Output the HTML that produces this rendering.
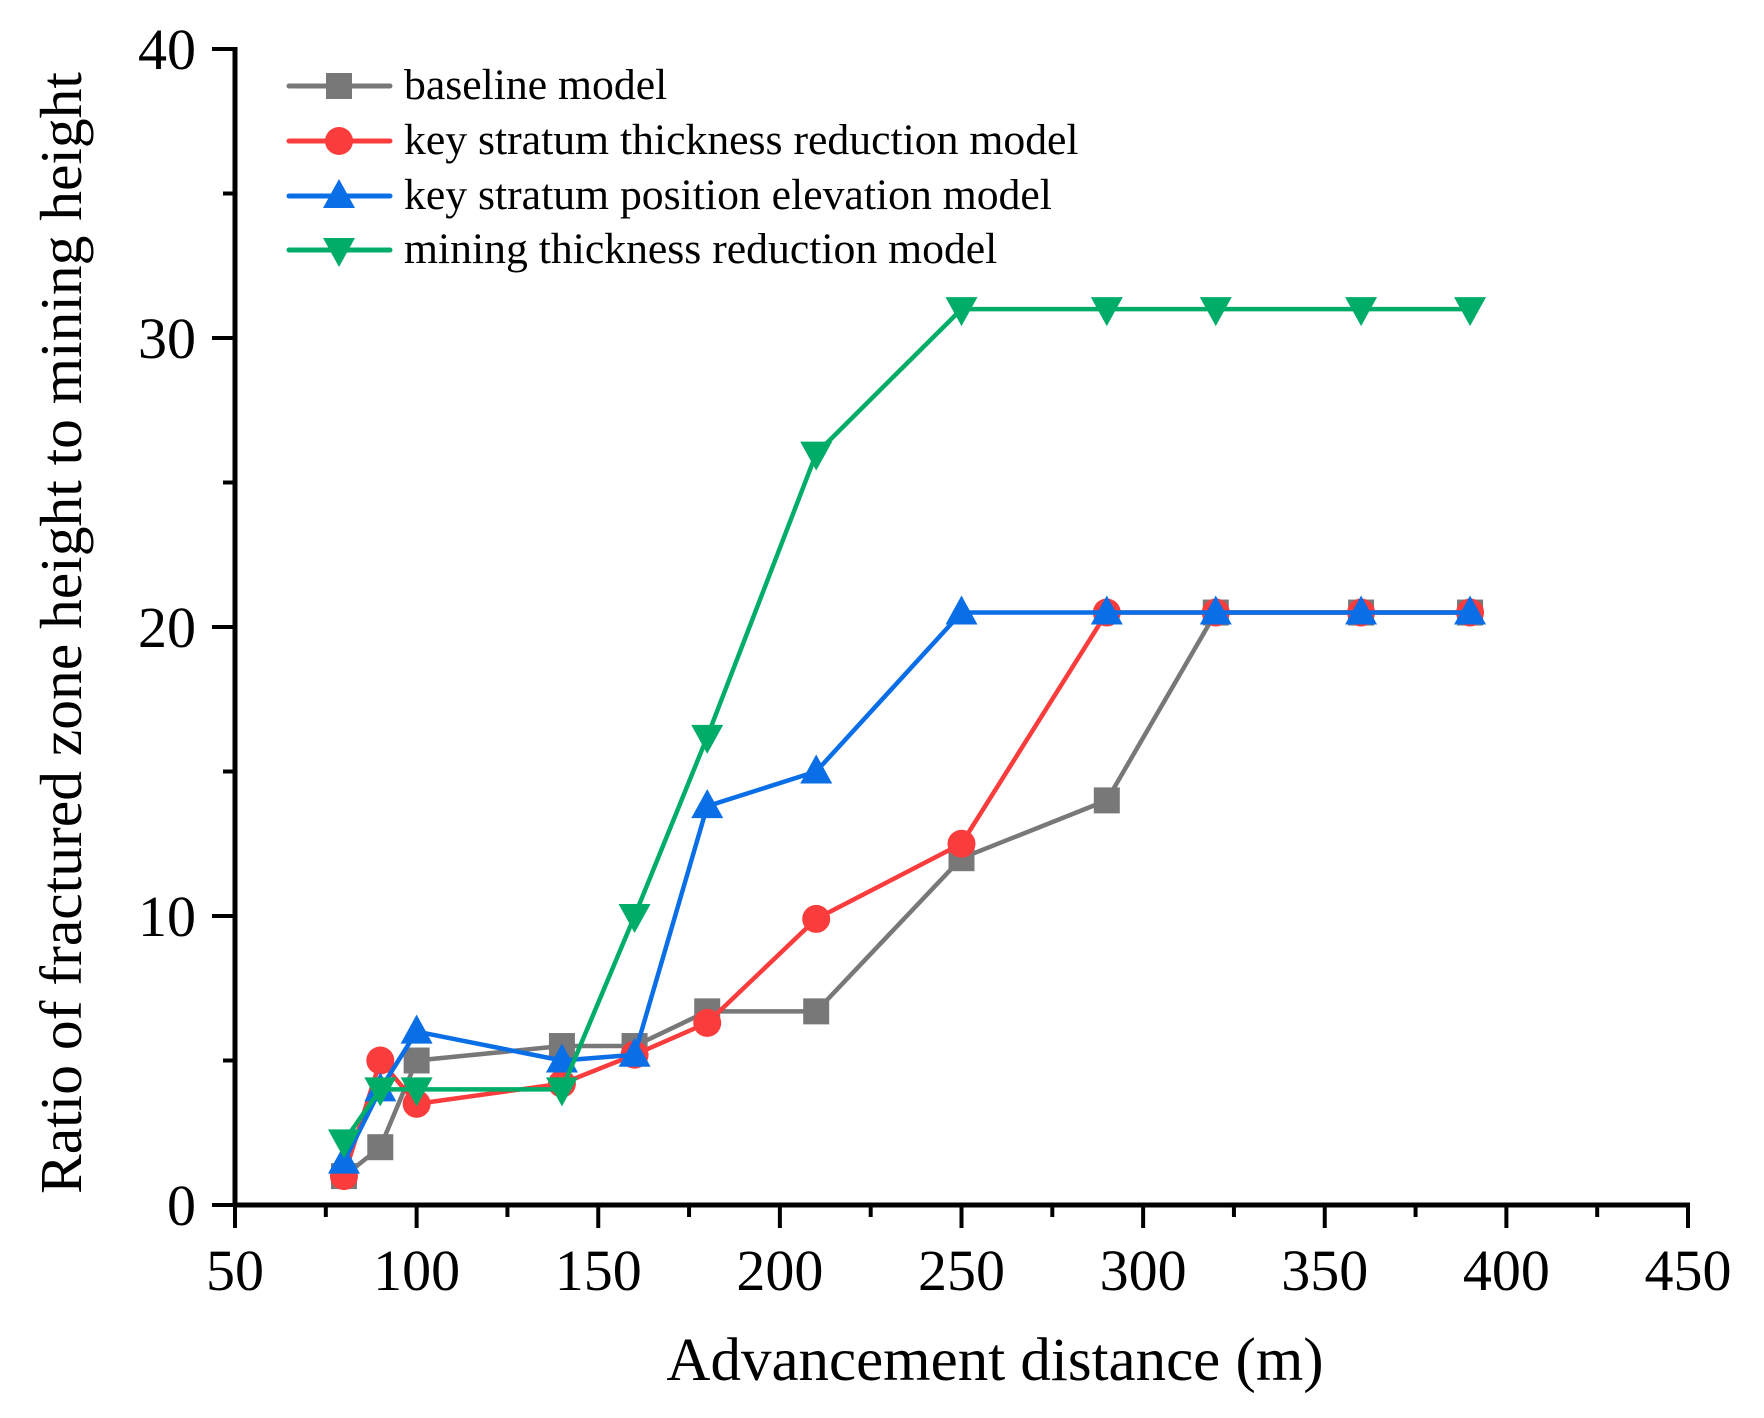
<!DOCTYPE html>
<html><head><meta charset="utf-8"><style>
html,body{margin:0;padding:0;background:#fff;}
svg{display:block;font-family:"Liberation Serif",serif;}
</style></head><body>
<svg id="chart" width="1764" height="1418" viewBox="0 0 1764 1418" xmlns="http://www.w3.org/2000/svg">
<g id="axes"></g>
<g id="series"></g>
<g id="legend"></g>
<text x="995" y="1380" font-size="61" text-anchor="middle">Advancement distance (m)</text>
<text transform="translate(81,633) rotate(-90)" font-size="59.5" text-anchor="middle">Ratio of fractured zone height to mining height</text>
</svg>
<script>
const xValues = [80, 90, 100, 140, 160, 180, 210, 250, 290, 320, 360, 390];
const baselineValues = [1, 2, 5, 5.5, 5.5, 6.7, 6.7, 12, 14, 20.5, 20.5, 20.5];
const thicknessValues = [1, 5, 3.5, 4.2, 5.2, 6.3, 9.9, 12.5, 20.5, 20.5, 20.5, 20.5];
const elevationValues = [1.5, 4, 6, 5, 5.2, 13.8, 15, 20.5, 20.5, 20.5, 20.5, 20.5];
const miningValues = [2.2, 4, 4, 4, 10, 16.2, 26, 31, 31, 31, 31, 31];
const xTicks = [50, 100, 150, 200, 250, 300, 350, 400, 450];
const yTicks = [0, 10, 20, 30, 40];
const seriesNames = ["baseline model", "key stratum thickness reduction model", "key stratum position elevation model", "mining thickness reduction model"];

const NS = "http://www.w3.org/2000/svg";
const X0 = 235, X1 = 1688, Y0 = 1205, Y1 = 49;
const xs = v => X0 + (v - 50) / 400 * (X1 - X0);
const ys = v => Y0 - v / 40 * (Y0 - Y1);
function mk(tag, attrs, parent) {
  const e = document.createElementNS(NS, tag);
  for (const k in attrs) e.setAttribute(k, attrs[k]);
  parent.appendChild(e);
  return e;
}
const axes = document.getElementById('axes');
let el;
el = mk('line', {x1: X0, y1: Y0, x2: X1 + 2, y2: Y0, stroke: '#000', 'stroke-width': 5}, axes);


el = mk('line', {x1: X0, y1: Y0 + 2, x2: X0, y2: Y1 - 2, stroke: '#000', 'stroke-width': 5}, axes);


for (let i = 0; i < xTicks.length; i++) {
  const x = xs(xTicks[i]);
  el = mk('line', {x1: x, y1: Y0, x2: x, y2: Y0 + 23, stroke: '#000', 'stroke-width': 4}, axes);
  
  
  if (i < xTicks.length - 1) {
    const xm = xs(xTicks[i] + 25);
    el = mk('line', {x1: xm, y1: Y0, x2: xm, y2: Y0 + 12, stroke: '#000', 'stroke-width': 4}, axes);
    
    
  }
  el = mk('text', {x: x, y: 1290, 'font-size': 58, 'text-anchor': 'middle'}, axes);
  el.textContent = xTicks[i];
  
  
}
for (let i = 0; i < yTicks.length; i++) {
  const y = ys(yTicks[i]);
  el = mk('line', {x1: X0 - 23, y1: y, x2: X0, y2: y, stroke: '#000', 'stroke-width': 4}, axes);
  
  
  if (i < yTicks.length - 1) {
    const ym = ys(yTicks[i] + 5);
    el = mk('line', {x1: X0 - 12, y1: ym, x2: X0, y2: ym, stroke: '#000', 'stroke-width': 4}, axes);
    
    
  }
  el = mk('text', {x: 196, y: y + 20, 'font-size': 58, 'text-anchor': 'end'}, axes);
  el.textContent = yTicks[i];
  
  
}
const colors = ['#787878', '#fa3c3c', '#0a6ee6', '#00ad68'];
const shapes = ['square', 'circle', 'up', 'down'];
const allSeries = [baselineValues, thicknessValues, elevationValues, miningValues];
function marker(shape, cx, cy, color, parent) {
  let m;
  if (shape === 'square') m = mk('rect', {x: cx - 13, y: cy - 13, width: 26, height: 26, fill: color}, parent);
  else if (shape === 'circle') m = mk('circle', {cx: cx, cy: cy, r: 14, fill: color}, parent);
  else if (shape === 'up') m = mk('polygon', {points: `${cx},${cy-17} ${cx+16},${cy+12} ${cx-16},${cy+12}`, fill: color}, parent);
  else m = mk('polygon', {points: `${cx},${cy+17} ${cx+16},${cy-12} ${cx-16},${cy-12}`, fill: color}, parent);
  return m;
}
const sg = document.getElementById('series');
allSeries.forEach((vals, s) => {
  const g = mk('g', {}, sg);
  
  
  const pts = vals.map((v, i) => xs(xValues[i]) + ',' + ys(v)).join(' ');
  el = mk('polyline', {points: pts, fill: 'none', stroke: colors[s], 'stroke-width': 4.5, 'stroke-linejoin': 'round'}, g);
  
  
  vals.forEach((v, i) => {
    el = marker(shapes[s], xs(xValues[i]), ys(v), colors[s], g);
    
    
  });
});
const lg = document.getElementById('legend');
const rowY = [86, 141, 196, 250];
seriesNames.forEach((name, s) => {
  const g = mk('g', {}, lg);
  
  
  const y = rowY[s];
  mk('line', {x1: 289, y1: y, x2: 390, y2: y, stroke: colors[s], 'stroke-width': 5, 'stroke-linecap': 'round'}, g);
  marker(shapes[s], 339, y, colors[s], g);
  el = mk('text', {x: 404, y: y + 13, 'font-size': 43.7}, g);
  el.textContent = name;
  
  
});
</script>
</body></html>
